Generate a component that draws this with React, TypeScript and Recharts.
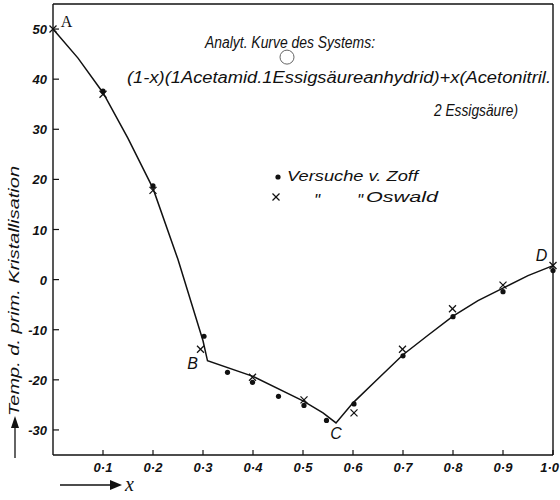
import React from 'react';
import { ComposedChart, Line, Scatter, XAxis, YAxis, ReferenceLine, ReferenceDot } from 'recharts';

// analytische Kurve
const curveX = [0, 0.05, 0.1, 0.15, 0.2, 0.25, 0.3, 0.309, 0.4, 0.5, 0.54, 0.566, 0.6, 0.65, 0.7, 0.75, 0.8, 0.85, 0.9, 0.95, 1.0];
const curveY = [50, 44.2, 37.3, 28.2, 18.2, 4, -12.2, -16.2, -19.3, -24.2, -26.6, -28.6, -24.6, -19.8, -15, -11.1, -7.3, -4.2, -1.7, 0.8, 2.8];

// Versuche v. Zoff (dots)
const zoffX = [0.1, 0.2, 0.302, 0.349, 0.399, 0.451, 0.502, 0.547, 0.602, 0.7, 0.8, 0.9, 1.0];
const zoffY = [37.6, 18.7, -11.3, -18.5, -20.5, -23.3, -25.1, -28.1, -24.8, -15.2, -7.4, -2.4, 1.8];

// Oswald (crosses)
const oswaldX = [0, 0.1, 0.2, 0.295, 0.399, 0.502, 0.602, 0.699, 0.799, 0.9, 1.0];
const oswaldY = [50, 37.0, 17.8, -13.9, -19.5, -24.0, -26.6, -13.9, -5.8, -1.1, 2.8];

// letters at the corner points
const letters = ['A', 'B', 'C', 'D'];
const letterX = [0.027, 0.279, 0.566, 0.977];
const letterY = [51.7, -16.7, -30.6, 4.9];

const xTicks = [0.1, 0.2, 0.3, 0.4, 0.5, 0.6, 0.7, 0.8, 0.9, 1.0];
const xTickLabels = ['0·1', '0·2', '0·3', '0·4', '0·5', '0·6', '0·7', '0·8', '0·9', '1·0'];
const yTicks = [-30, -20, -10, 0, 10, 20, 30, 40, 50];

const curve = curveX.map((x, i) => ({ x, y: curveY[i] }));
const zoff = zoffX.map((x, i) => ({ x, y: zoffY[i] }));
const oswald = oswaldX.map((x, i) => ({ x, y: oswaldY[i] }));

const FONT = '"Liberation Sans", "DejaVu Sans", sans-serif';
const INK = '#111';

const XTick = (props: any) => {
  const { x, y, payload } = props;
  const i = xTicks.indexOf(payload.value);
  const last = i === xTicks.length - 1;
  return (
    <g>
      <line x1={x} y1={y} x2={x} y2={y - 5} stroke={INK} strokeWidth={1.2} />
      <text x={last ? x + 6 : x} y={y + 17} textAnchor={last ? 'end' : 'middle'} fontFamily={FONT} fontStyle="italic" fontSize={13} fontWeight="bold" fill={INK}>
        {xTickLabels[i]}
      </text>
    </g>
  );
};

const YTick = (props: any) => {
  const { x, y, payload } = props;
  return (
    <g>
      <line x1={x} y1={y} x2={x + 6} y2={y} stroke={INK} strokeWidth={1.2} />
      <text x={x - 6} y={y + 5} textAnchor="end" fontFamily={FONT} fontStyle="italic" fontSize={13} fontWeight="bold" fill={INK}>
        {payload.value}
      </text>
    </g>
  );
};

const Dot = (p: any) => <circle cx={p.cx} cy={p.cy} r={2.6} fill={INK} />;
const Cross = (p: any) => (
  <g stroke={INK} strokeWidth={1.3}>
    <line x1={p.cx - 3.5} y1={p.cy - 3.5} x2={p.cx + 3.5} y2={p.cy + 3.5} />
    <line x1={p.cx - 3.5} y1={p.cy + 3.5} x2={p.cx + 3.5} y2={p.cy - 3.5} />
  </g>
);

export default function App() {
  return (
    <div style={{ position: 'absolute', left: 0, top: 0, width: 560, height: 500, background: '#fff' }}>
      <ComposedChart width={560} height={500} margin={{ top: 4, right: 7, bottom: 0, left: 0 }}>
        <XAxis
          type="number"
          dataKey="x"
          domain={[0, 1]}
          ticks={xTicks}
          height={45}
          tickSize={0}
          tickMargin={0}
          tick={<XTick />}
          axisLine={{ stroke: INK, strokeWidth: 1.4 }}
          tickLine={false}
        />
        <YAxis
          type="number"
          dataKey="y"
          domain={[-35, 55]}
          ticks={yTicks}
          width={53}
          tickSize={0}
          tickMargin={0}
          tick={<YTick />}
          axisLine={{ stroke: INK, strokeWidth: 1.4 }}
          tickLine={false}
        />
        <ReferenceLine y={55} stroke={INK} strokeWidth={1.4} />
        <ReferenceLine x={1} stroke={INK} strokeWidth={1.4} />
        <ReferenceDot x={0.468} y={44.4} r={7} fill="none" stroke="#666" strokeWidth={1} />
        <Line data={curve} dataKey="y" type="linear" stroke={INK} strokeWidth={1.5} dot={false} isAnimationActive={false} />
        <Scatter data={zoff} dataKey="y" shape={Dot} isAnimationActive={false} />
        <Scatter data={oswald} dataKey="y" shape={Cross} isAnimationActive={false} />
        {letters.map((l, i) => (
          <ReferenceDot
            key={l}
            x={letterX[i]}
            y={letterY[i]}
            r={0}
            shape={(p: any) => (
              <text x={p.cx} y={p.cy + 6} textAnchor="middle" fontFamily={l === 'A' ? '"Liberation Serif", serif' : FONT} fontStyle={l === 'A' ? 'normal' : 'italic'} fontSize={16} fill={INK}>
                {l}
              </text>
            )}
          />
        ))}
      </ComposedChart>

      <svg width={560} height={500} style={{ position: 'absolute', left: 0, top: 0, pointerEvents: 'none' }}>
        <g fontFamily={FONT} fontStyle="italic" fill={INK}>
          <text x={205} y={48} fontSize={16} textLength={170} lengthAdjust="spacingAndGlyphs">Analyt. Kurve des Systems:</text>
          <text x={127} y={83} fontSize={16} textLength={424} lengthAdjust="spacingAndGlyphs">(1-x)(1Acetamid.1Essigsäureanhydrid)+x(Acetonitril.</text>
          <text x={434} y={116} fontSize={16} textLength={84} lengthAdjust="spacingAndGlyphs">2 Essigsäure)</text>

          <circle cx={278} cy={177} r={2.6} />
          <text x={287} y={181} fontSize={15} textLength={131} lengthAdjust="spacingAndGlyphs">Versuche v. Zoff</text>
          <text x={317} y={206} fontSize={17} textAnchor="middle">"</text>
          <text x={360} y={206} fontSize={17} textAnchor="middle">"</text>
          <text x={366} y={202} fontSize={15} textLength={72} lengthAdjust="spacingAndGlyphs">Oswald</text>

          <text transform="translate(19,291) rotate(-90)" textAnchor="middle" fontSize={14} textLength={250} lengthAdjust="spacingAndGlyphs">
            Temp. d. prim. Kristallisation
          </text>
        </g>
        <g stroke={INK} strokeWidth={1.3}>
          <line x1={272.5} y1={193.5} x2={279.5} y2={200.5} />
          <line x1={272.5} y1={200.5} x2={279.5} y2={193.5} />
        </g>
        <line x1={15} y1={458} x2={15} y2={420} stroke={INK} strokeWidth={1.3} />
        <path d="M11,428 L15,416 L19,428 Z" fill={INK} />
        <line x1={60} y1={485} x2={116} y2={485} stroke={INK} strokeWidth={1.3} />
        <path d="M110,480 L122,485 L110,490 Z" fill={INK} />
        <text x={125} y={491} fontFamily='"Liberation Serif", serif' fontStyle="italic" fontSize={20} fill={INK}>x</text>
      </svg>
    </div>
  );
}
